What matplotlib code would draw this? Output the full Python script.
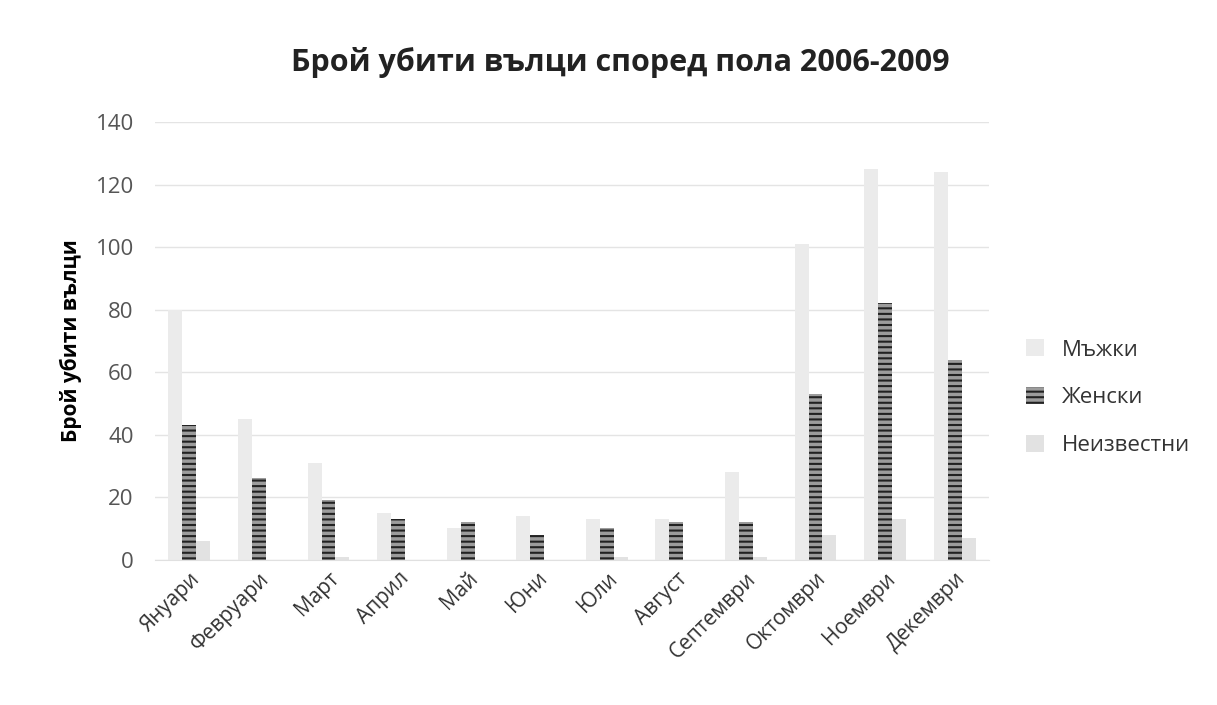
import numpy as np
import matplotlib
matplotlib.use("Agg")
import matplotlib.pyplot as plt

plt.rcParams['font.family'] = ['Open Sans', 'DejaVu Sans']

# Data
months = ["Януари", "Февруари", "Март", "Април", "Май", "Юни",
          "Юли", "Август", "Септември", "Октомври", "Ноември", "Декември"]
male = [80, 45, 31, 15, 10, 14, 13, 13, 28, 101, 125, 124]
female = [43, 26, 19, 13, 12, 8, 10, 12, 12, 53, 82, 64]
unknown = [6, 0, 1, 0, 0, 0, 1, 0, 1, 8, 13, 7]
series_names = ["Мъжки", "Женски", "Неизвестни"]

fig = plt.figure(figsize=(12.17, 7.05), dpi=100)
ax = fig.add_axes([0.127, 0.206, 0.686, 0.621])

x = np.arange(len(months))
w = 0.2

plt.rcParams['hatch.color'] = "#222222"
plt.rcParams['hatch.linewidth'] = 1.5
ax.bar(x - w, male, w, color="#ebebeb", label=series_names[0], zorder=2)
ax.bar(x, female, w, color="#9c9c9c", hatch="---", edgecolor="#222222",
       linewidth=0, label=series_names[1], zorder=2)
ax.bar(x + w, unknown, w, color="#e2e2e2", label=series_names[2], zorder=2)

ax.set_ylim(0, 140)
ax.set_yticks(range(0, 141, 20))
ax.set_xlim(-0.5, len(months) - 0.5)
ax.set_xticks(x)
ax.set_xticklabels(months, rotation=45, ha="right", rotation_mode="anchor",
                   fontsize=15, color="#333333")
ax.tick_params(axis="y", labelsize=16, labelcolor="#555555", length=0, pad=15)
ax.tick_params(axis="x", length=0, pad=6)

ax.grid(axis="y", color="#e4e4e4", linewidth=1, zorder=0)
for s in ["top", "right", "left"]:
    ax.spines[s].set_visible(False)
ax.spines["bottom"].set_color("#e0e0e0")

ax.set_ylabel("Брой убити вълци", fontsize=15, fontweight="bold", labelpad=10)
fig.text(0.51, 0.912, "Брой убити вълци според пола 2006-2009",
         ha="center", va="center", fontsize=22, fontweight="bold", color="#222222")

ax.legend(loc="center left", bbox_to_anchor=(1.02, 0.37), frameon=False,
          fontsize=16, labelspacing=1.2, handlelength=0.8, handleheight=0.8,
          labelcolor="#333333")

fig.savefig("out.png", dpi=100)
